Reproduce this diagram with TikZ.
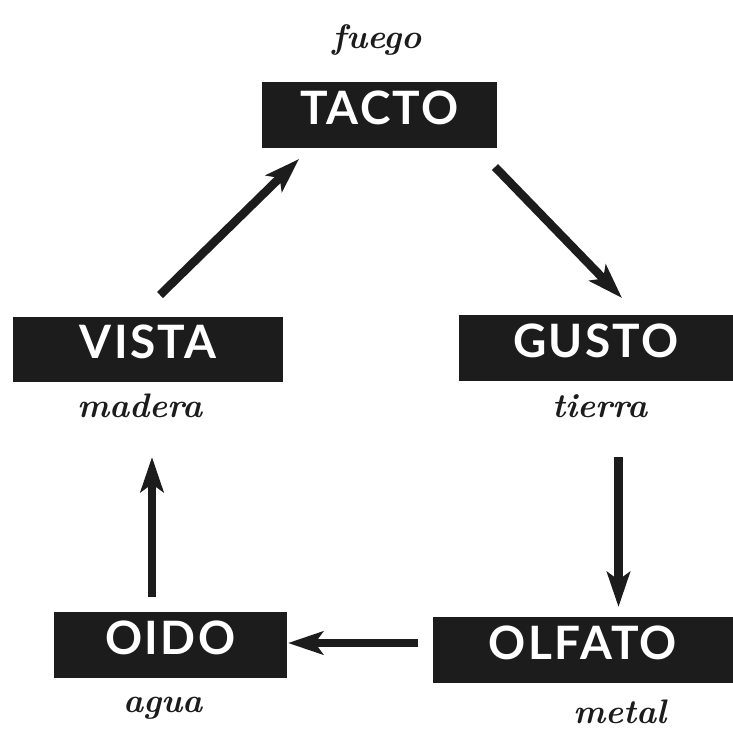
\documentclass[tikz,border=0pt]{standalone}
\usepackage{fontspec}
\usetikzlibrary{arrows.meta}
\newfontfamily\boxfont{Lato}[LetterSpace=5]
\definecolor{ink}{HTML}{1C1C1C}
\begin{document}
\begin{tikzpicture}[x=1pt,y=-1pt,
  sense/.style={fill=ink, draw=none, inner sep=0pt, text=white,
    font=\boxfont\bfseries\fontsize{46}{46}\selectfont,
    text height=33pt, text depth=15pt},
  elem/.style={font=\bfseries\itshape\fontsize{34}{34}\selectfont, text=ink, inner sep=0pt},
  flow/.style={draw=ink, line width=8.5pt, -{Stealth[length=35pt,width=23pt,inset=8pt]}}
]
\useasboundingbox (0,0) rectangle (733,734);
\fill[white] (0,0) rectangle (733,734);
\node[sense, minimum width=235pt, minimum height=66pt] (tacto) at (379.5,115) {TACTO};
\node[sense, minimum width=270pt, minimum height=65pt] (vista) at (148,349.5) {VISTA};
\node[sense, minimum width=274pt, minimum height=66pt] (gusto) at (596,348) {GUSTO};
\node[sense, minimum width=233pt, minimum height=66pt] (oido) at (170.5,645) {OIDO};
\node[sense, minimum width=300pt, minimum height=66pt] (olfato) at (583,650) {OLFATO};
\node[elem] (fuego) at (377,40) {fuego};
\node[elem] (madera) at (140,406) {madera};
\node[elem] (tierra) at (600,406) {tierra};
\node[elem] (agua) at (163,708) {agua};
\node[elem] (metal) at (620,712) {metal};
\coordinate (a1s) at (160,295); \coordinate (a1e) at (299,159);
\coordinate (a2s) at (495,167); \coordinate (a2e) at (622,298);
\coordinate (a3s) at (618.5,457); \coordinate (a3e) at (618.5,607);
\coordinate (a4s) at (418,643); \coordinate (a4e) at (288,643);
\coordinate (a5s) at (152,597); \coordinate (a5e) at (152,457);
\draw[flow] (a1s) -- (a1e);
\draw[flow] (a2s) -- (a2e);
\draw[flow] (a3s) -- (a3e);
\draw[flow] (a4s) -- (a4e);
\draw[flow] (a5s) -- (a5e);
\end{tikzpicture}
\end{document}
